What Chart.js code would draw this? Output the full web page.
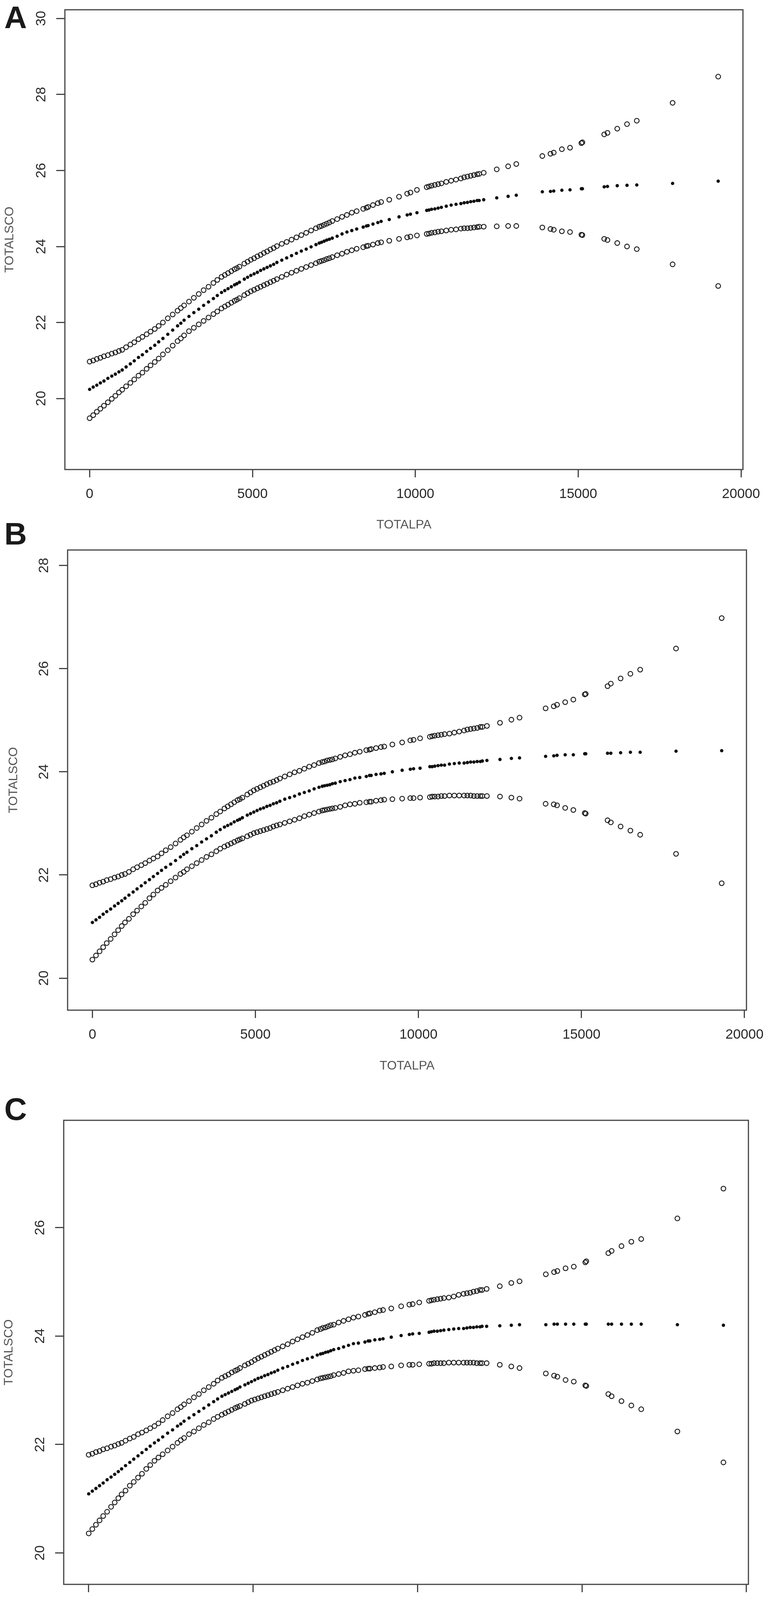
<!DOCTYPE html>
<html>
<head>
<meta charset="utf-8">
<script src="https://cdn.jsdelivr.net/npm/chart.js@4.4.1/dist/chart.umd.min.js"></script>
<style>
  html, body { margin: 0; padding: 0; background: #fff; }
  body { position: relative; width: 1983px; height: 4237px; overflow: hidden; }
  canvas { position: absolute; left: 0; }
  .tag { position: absolute; left: 11px; font: bold 80px "Liberation Sans", Arial, sans-serif; line-height: 80px; color: #1a1a1a; z-index: 2; }
</style>
</head>
<body>
<div class="tag" style="top:5px">A</div>
<div class="tag" style="top:1327px">B</div>
<div class="tag" style="top:2800px">C</div>
<canvas id="chartA" width="1983" height="1390" style="top:0px"></canvas>
<canvas id="chartB" width="1983" height="1375" style="top:1395px"></canvas>
<canvas id="chartC" width="1983" height="1387" style="top:2850px"></canvas>
<script>
// TOTALPA values (shared by all three panels)
const totalpa = [
  0, 110, 220, 330, 440, 560, 680, 790, 900,
  1000, 1120, 1250, 1370, 1500, 1620, 1750, 1870,
  2000, 2120, 2250, 2400, 2550, 2700, 2800, 2900,
  3050, 3200, 3350, 3500, 3650, 3800, 3920,
  4050, 4150, 4250, 4350, 4450, 4520, 4600, 4750, 4850, 4950,
  5050, 5150, 5250, 5350, 5450, 5550, 5650, 5750, 5900,
  6050, 6200, 6350, 6500, 6650, 6800, 6950,
  7050, 7120, 7200, 7280, 7360, 7450, 7600, 7750, 7900,
  8050, 8200, 8400, 8500, 8550, 8700, 8850, 8950,
  9200, 9500, 9750, 9850,
  10050, 10350, 10420, 10500, 10600, 10700, 10800, 10950,
  11100, 11250, 11400, 11500, 11600, 11700, 11800, 11900, 11960,
  12100, 12500, 12850, 13100,
  13900, 14150, 14250, 14500, 14750, 15100, 15130, 15800, 15900, 16200, 16500, 16800, 17900, 19300
];

// panel A
const upperA = [
  20.97, 21.00, 21.04, 21.07, 21.11, 21.14, 21.18, 21.21, 21.25,
  21.28, 21.35, 21.42, 21.48, 21.56, 21.62, 21.69, 21.76,
  21.83, 21.91, 22.00, 22.11, 22.21, 22.31, 22.38, 22.45,
  22.55, 22.65, 22.75, 22.85, 22.94, 23.04, 23.12,
  23.20, 23.25, 23.30, 23.35, 23.40, 23.43, 23.47, 23.55, 23.60, 23.65,
  23.69, 23.74, 23.78, 23.83, 23.87, 23.92, 23.96, 24.01, 24.07,
  24.12, 24.18, 24.24, 24.30, 24.36, 24.42, 24.48,
  24.52, 24.54, 24.57, 24.60, 24.63, 24.67, 24.72, 24.78, 24.83,
  24.89, 24.93, 24.99, 25.02, 25.04, 25.09, 25.14, 25.17,
  25.23, 25.31, 25.39, 25.42,
  25.49, 25.56, 25.58, 25.60, 25.62, 25.64, 25.66, 25.70,
  25.73, 25.76, 25.79, 25.82, 25.84, 25.86, 25.88, 25.90, 25.91,
  25.94, 26.03, 26.11, 26.17,
  26.38, 26.44, 26.47, 26.56, 26.60, 26.72, 26.74, 26.95, 26.99, 27.10, 27.22, 27.31, 27.78, 28.47
];
const fitA = [
  20.24, 20.30, 20.35, 20.41, 20.46, 20.53, 20.59, 20.64, 20.70,
  20.75, 20.83, 20.91, 20.99, 21.08, 21.15, 21.24, 21.32,
  21.40, 21.49, 21.58, 21.69, 21.80, 21.91, 21.98, 22.06,
  22.16, 22.26, 22.35, 22.45, 22.54, 22.63, 22.71,
  22.79, 22.84, 22.89, 22.94, 22.99, 23.02, 23.06, 23.14, 23.19, 23.24,
  23.28, 23.32, 23.37, 23.41, 23.45, 23.49, 23.53, 23.58, 23.64,
  23.70, 23.76, 23.82, 23.88, 23.93, 23.99, 24.05,
  24.09, 24.11, 24.14, 24.17, 24.19, 24.22, 24.27, 24.33, 24.38,
  24.42, 24.46, 24.51, 24.54, 24.55, 24.59, 24.63, 24.66,
  24.71, 24.78, 24.83, 24.85,
  24.89, 24.95, 24.96, 24.98, 24.99, 25.01, 25.03, 25.06,
  25.09, 25.11, 25.13, 25.15, 25.16, 25.18, 25.19, 25.21, 25.21,
  25.23, 25.28, 25.32, 25.35,
  25.44, 25.45, 25.46, 25.48, 25.49, 25.52, 25.52, 25.57, 25.58, 25.60, 25.61, 25.62, 25.66, 25.72
];
const lowerA = [
  19.48, 19.56, 19.65, 19.73, 19.81, 19.90, 19.99, 20.07, 20.16,
  20.23, 20.32, 20.41, 20.50, 20.60, 20.68, 20.78, 20.87,
  20.96, 21.05, 21.16, 21.27, 21.39, 21.51, 21.58, 21.66,
  21.77, 21.86, 21.95, 22.04, 22.13, 22.22, 22.29,
  22.37, 22.42, 22.47, 22.52, 22.57, 22.60, 22.64, 22.72, 22.77, 22.82,
  22.86, 22.90, 22.94, 22.98, 23.02, 23.06, 23.10, 23.14, 23.20,
  23.26, 23.31, 23.36, 23.41, 23.46, 23.51, 23.56,
  23.60, 23.62, 23.64, 23.67, 23.69, 23.72, 23.77, 23.81, 23.86,
  23.90, 23.94, 23.98, 24.01, 24.02, 24.05, 24.09, 24.11,
  24.15, 24.20, 24.24, 24.26,
  24.29, 24.33, 24.34, 24.36, 24.37, 24.39, 24.40, 24.42,
  24.44, 24.45, 24.47, 24.48, 24.48, 24.49, 24.50, 24.51, 24.52,
  24.52, 24.53, 24.54, 24.54,
  24.50, 24.46, 24.44, 24.40, 24.38, 24.31, 24.30, 24.20, 24.17, 24.09, 24.00, 23.93, 23.53, 22.96
];

// panel B
const upperB = [
  21.80, 21.82, 21.85, 21.87, 21.90, 21.92, 21.95, 21.97, 22.00,
  22.02, 22.06, 22.11, 22.15, 22.19, 22.23, 22.28, 22.32,
  22.36, 22.42, 22.48, 22.54, 22.61, 22.68, 22.73, 22.77,
  22.84, 22.91, 22.98, 23.05, 23.11, 23.18, 23.23,
  23.29, 23.33, 23.37, 23.41, 23.45, 23.47, 23.50, 23.56, 23.60, 23.64,
  23.67, 23.70, 23.73, 23.76, 23.79, 23.81, 23.84, 23.87, 23.91,
  23.95, 23.99, 24.02, 24.06, 24.10, 24.13, 24.17,
  24.19, 24.20, 24.22, 24.23, 24.24, 24.26, 24.29, 24.32, 24.34,
  24.37, 24.39, 24.42, 24.43, 24.44, 24.46, 24.48, 24.49,
  24.53, 24.57, 24.61, 24.62,
  24.65, 24.68, 24.69, 24.70, 24.71, 24.72, 24.73, 24.74,
  24.76, 24.78, 24.80, 24.82, 24.83, 24.84, 24.85, 24.87, 24.87,
  24.89, 24.95, 25.01, 25.05,
  25.23, 25.27, 25.30, 25.35, 25.40, 25.50, 25.51, 25.66, 25.71, 25.81, 25.90, 25.98, 26.39, 26.98
];
const fitB = [
  21.08, 21.13, 21.18, 21.24, 21.29, 21.34, 21.40, 21.45, 21.50,
  21.55, 21.61, 21.67, 21.73, 21.79, 21.85, 21.91, 21.97,
  22.03, 22.09, 22.15, 22.21, 22.28, 22.35, 22.40, 22.44,
  22.51, 22.57, 22.64, 22.70, 22.76, 22.83, 22.88,
  22.93, 22.96, 22.99, 23.03, 23.06, 23.08, 23.11, 23.16, 23.19, 23.22,
  23.25, 23.28, 23.30, 23.33, 23.35, 23.38, 23.40, 23.43, 23.47,
  23.50, 23.53, 23.57, 23.60, 23.63, 23.67, 23.70,
  23.72, 23.73, 23.74, 23.75, 23.77, 23.78, 23.81, 23.83, 23.85,
  23.88, 23.89, 23.91, 23.93, 23.93, 23.95, 23.96, 23.97,
  24.00, 24.03, 24.05, 24.06,
  24.07, 24.10, 24.10, 24.11, 24.12, 24.13, 24.13, 24.15,
  24.16, 24.17, 24.17, 24.18, 24.19, 24.19, 24.20, 24.20, 24.21,
  24.22, 24.24, 24.26, 24.27,
  24.30, 24.31, 24.32, 24.33, 24.33, 24.35, 24.35, 24.36, 24.36, 24.37, 24.38, 24.38, 24.40, 24.41
];
const lowerB = [
  20.36, 20.44, 20.52, 20.60, 20.68, 20.76, 20.85, 20.93, 21.01,
  21.08, 21.15, 21.24, 21.31, 21.39, 21.46, 21.55, 21.62,
  21.70, 21.75, 21.81, 21.88, 21.95, 22.02, 22.06, 22.11,
  22.17, 22.23, 22.29, 22.35, 22.40, 22.46, 22.51,
  22.55, 22.58, 22.61, 22.64, 22.67, 22.69, 22.71, 22.75, 22.78, 22.81,
  22.83, 22.85, 22.87, 22.89, 22.91, 22.94, 22.96, 22.98, 23.01,
  23.04, 23.07, 23.10, 23.14, 23.17, 23.20, 23.23,
  23.25, 23.26, 23.27, 23.28, 23.29, 23.30, 23.32, 23.35, 23.37,
  23.38, 23.40, 23.41, 23.42, 23.42, 23.44, 23.45, 23.46,
  23.47, 23.48, 23.49, 23.49,
  23.50, 23.51, 23.52, 23.52, 23.52, 23.53, 23.53, 23.54,
  23.54, 23.54, 23.54, 23.54, 23.54, 23.53, 23.53, 23.53, 23.53,
  23.53, 23.52, 23.50, 23.48,
  23.38, 23.37, 23.35, 23.30, 23.26, 23.20, 23.19, 23.06, 23.02, 22.94, 22.86, 22.78, 22.41, 21.84
];

// panel C
const upperC = [
  21.81, 21.83, 21.86, 21.88, 21.91, 21.93, 21.96, 21.98, 22.01,
  22.03, 22.07, 22.11, 22.14, 22.19, 22.22, 22.26, 22.30,
  22.34, 22.39, 22.45, 22.52, 22.58, 22.65, 22.69, 22.74,
  22.80, 22.87, 22.93, 23.00, 23.06, 23.12, 23.18,
  23.23, 23.26, 23.29, 23.33, 23.36, 23.38, 23.41, 23.46, 23.49, 23.52,
  23.56, 23.59, 23.62, 23.65, 23.68, 23.71, 23.74, 23.77, 23.81,
  23.85, 23.90, 23.94, 23.98, 24.02, 24.06, 24.11,
  24.13, 24.15, 24.16, 24.18, 24.20, 24.21, 24.25, 24.28, 24.31,
  24.34, 24.36, 24.39, 24.41, 24.42, 24.44, 24.47, 24.48,
  24.51, 24.55, 24.58, 24.59,
  24.62, 24.65, 24.66, 24.67, 24.68, 24.69, 24.70, 24.71,
  24.73, 24.76, 24.78, 24.79, 24.80, 24.82, 24.83, 24.85, 24.85,
  24.87, 24.92, 24.98, 25.01,
  25.14, 25.18, 25.20, 25.25, 25.28, 25.36, 25.38, 25.53, 25.57, 25.66, 25.74, 25.79, 26.17, 26.72
];
const fitC = [
  21.09, 21.14, 21.19, 21.24, 21.29, 21.35, 21.40, 21.45, 21.50,
  21.55, 21.61, 21.67, 21.73, 21.79, 21.85, 21.91, 21.97,
  22.03, 22.08, 22.14, 22.21, 22.27, 22.34, 22.38, 22.43,
  22.49, 22.55, 22.61, 22.67, 22.73, 22.79, 22.84,
  22.89, 22.92, 22.95, 22.98, 23.01, 23.03, 23.06, 23.10, 23.13, 23.16,
  23.19, 23.22, 23.24, 23.27, 23.29, 23.32, 23.34, 23.37, 23.41,
  23.44, 23.48, 23.51, 23.55, 23.58, 23.61, 23.65,
  23.67, 23.68, 23.70, 23.71, 23.73, 23.75, 23.77, 23.80, 23.83,
  23.86, 23.87, 23.89, 23.91, 23.91, 23.93, 23.94, 23.95,
  23.98, 24.01, 24.03, 24.04,
  24.05, 24.07, 24.08, 24.09, 24.09, 24.10, 24.11, 24.12,
  24.13, 24.14, 24.14, 24.15, 24.16, 24.16, 24.17, 24.17, 24.18,
  24.18, 24.19, 24.20, 24.21,
  24.21, 24.22, 24.22, 24.22, 24.22, 24.22, 24.22, 24.22, 24.22, 24.22, 24.22, 24.22, 24.21, 24.20
];
const lowerC = [
  20.36, 20.44, 20.52, 20.60, 20.68, 20.76, 20.85, 20.93, 21.01,
  21.08, 21.15, 21.24, 21.31, 21.39, 21.46, 21.55, 21.62,
  21.70, 21.76, 21.82, 21.89, 21.96, 22.03, 22.08, 22.12,
  22.19, 22.24, 22.30, 22.36, 22.41, 22.47, 22.51,
  22.55, 22.58, 22.61, 22.64, 22.67, 22.69, 22.71, 22.75, 22.78, 22.81,
  22.83, 22.85, 22.87, 22.89, 22.91, 22.93, 22.95, 22.97, 23.00,
  23.03, 23.06, 23.09, 23.12, 23.14, 23.17, 23.20,
  23.22, 23.23, 23.24, 23.25, 23.26, 23.28, 23.30, 23.32, 23.35,
  23.36, 23.37, 23.39, 23.40, 23.40, 23.41, 23.42, 23.43,
  23.44, 23.46, 23.47, 23.47,
  23.48, 23.49, 23.49, 23.50, 23.50, 23.50, 23.50, 23.51,
  23.51, 23.51, 23.51, 23.51, 23.51, 23.51, 23.50, 23.50, 23.50,
  23.50, 23.47, 23.44, 23.41,
  23.31, 23.27, 23.25, 23.19, 23.16, 23.09, 23.08, 22.93, 22.89, 22.80, 22.72, 22.65, 22.24, 21.67
];

const xTicks = [0, 5000, 10000, 15000, 20000];
const yTicksA = [20, 22, 24, 26, 28, 30];
const yTicksB = [20, 22, 24, 26, 28];
const yTicksC = [20, 22, 24, 26];

const INK = '#444';
const FONT = '"Liberation Sans", Arial, sans-serif';

// box around the plot + rotated y tick labels, R style
const rFrame = {
  id: 'rFrame',
  afterDraw(chart) {
    const { ctx, chartArea: a, scales: { y } } = chart;
    ctx.save();
    ctx.strokeStyle = INK;
    ctx.lineWidth = 3;
    ctx.strokeRect(a.left, a.top, a.right - a.left, a.bottom - a.top);
    ctx.fillStyle = '#2a2a2a';
    ctx.font = '35px ' + FONT;
    ctx.textAlign = 'center';
    ctx.textBaseline = 'middle';
    y.ticks.forEach(t => {
      ctx.save();
      ctx.translate(a.left - 60, y.getPixelForValue(t.value));
      ctx.rotate(-Math.PI / 2);
      ctx.fillText(String(t.value), 0, 0);
      ctx.restore();
    });
    ctx.restore();
  }
};

function pts(ys) {
  return totalpa.map((x, i) => ({ x: x, y: ys[i] }));
}

function panel(id, upper, fit, lower, yTicks, g) {
  const openPt = {
    pointStyle: 'circle', pointRadius: 6, pointBorderWidth: 2.3,
    pointBorderColor: '#1a1a1a', pointBackgroundColor: 'rgba(0,0,0,0)'
  };
  new Chart(document.getElementById(id), {
    type: 'scatter',
    data: {
      datasets: [
        Object.assign({ label: 'upper', data: pts(upper) }, openPt),
        { label: 'fit', data: pts(fit), pointRadius: 4.3, pointBorderWidth: 0,
          pointBackgroundColor: '#111', pointBorderColor: '#111' },
        Object.assign({ label: 'lower', data: pts(lower) }, openPt)
      ]
    },
    options: {
      responsive: false,
      animation: false,
      devicePixelRatio: 1,
      layout: { padding: { top: g.top, right: g.right, left: 0, bottom: 0 } },
      plugins: { legend: { display: false }, tooltip: { enabled: false } },
      scales: {
        x: {
          type: 'linear', min: -760, max: 20060,
          afterBuildTicks: s => { s.ticks = xTicks.map(v => ({ value: v })); },
          afterFit: s => { s.height = g.xh; },
          border: { display: false },
          grid: { drawOnChartArea: false, drawTicks: true, tickLength: 20, color: INK, lineWidth: 3 },
          ticks: { font: { size: 35, family: FONT }, color: '#2a2a2a', padding: 22, maxRotation: 0, autoSkip: false,
                   callback: v => String(v) },
          title: { display: true, text: 'TOTALPA', color: '#555', font: { size: 32, family: FONT }, padding: { top: 0, bottom: g.xpad } }
        },
        y: {
          type: 'linear', min: g.ymin, max: g.ymax,
          afterBuildTicks: s => { s.ticks = yTicks.map(v => ({ value: v })); },
          afterFit: s => { s.width = g.yw; },
          border: { display: false },
          grid: { drawOnChartArea: false, drawTicks: true, tickLength: 22, color: INK, lineWidth: 3 },
          ticks: { display: false },
          title: { display: true, text: 'TOTALSCO', color: '#555', font: { size: 32, family: FONT }, padding: { top: g.ypad, bottom: 0 } }
        }
      }
    },
    plugins: [rFrame]
  });
}

panel('chartA', upperA, fitA, lowerA, yTicksA,
  { top: 25, right: 82, xh: 188, yw: 166, xpad: 27, ypad: 6, ymin: 18.13, ymax: 30.23 });
panel('chartB', upperB, fitB, lowerB, yTicksB,
  { top: 13, right: 73, xh: 184, yw: 173, xpad: 22, ypad: 16, ymin: 19.38, ymax: 28.30 });
panel('chartC', upperC, fitC, lowerC, yTicksC,
  { top: 18, right: 68, xh: 181, yw: 163, xpad: 20, ypad: 4, ymin: 19.42, ymax: 27.98 });
</script>
</body>
</html>
